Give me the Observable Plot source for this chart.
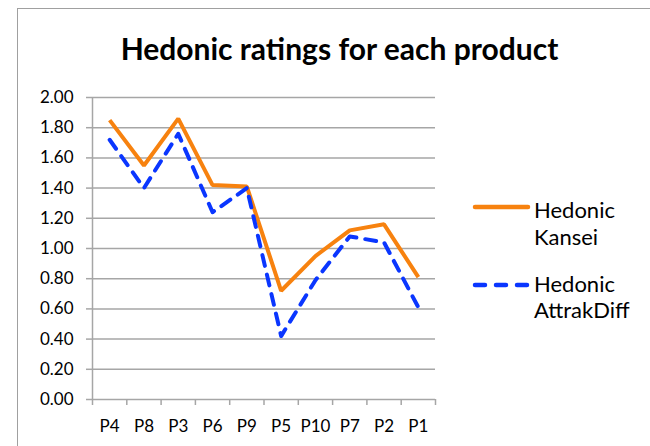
<!DOCTYPE html>
<html>
<head>
<meta charset="utf-8">
<script src="https://cdn.jsdelivr.net/npm/d3@7"></script>
<script src="https://cdn.jsdelivr.net/npm/@observablehq/plot@0.6"></script>
<style>
  html, body { margin: 0; padding: 0; background: #fff; }
  #wrap { position: relative; width: 650px; height: 446px; overflow: hidden; font-family: Lato, "Open Sans", sans-serif; }
  #frame { position: absolute; left: 17px; top: 8px; width: 700px; height: 500px; border-left: 1.5px solid #a0a0a0; border-top: 1.5px solid #a0a0a0; box-sizing: border-box; }
  #title { position: absolute; left: 0; top: 33px; width: 679px; text-align: center; font-weight: bold; font-size: 30px; line-height: 30px; color: #000; white-space: nowrap; }
  #chart { position: absolute; left: 0; top: 0; }
  #legend { position: absolute; left: 0; top: 0; }
</style>
</head>
<body>
<div id="wrap">
  <div id="frame"></div>
  <div id="chart"></div>
  <div id="title"></div>
  <svg id="legend" width="650" height="446"></svg>
</div>
<script>
const products = ["P4","P8","P3","P6","P9","P5","P10","P7","P2","P1"];
const kansei   = [1.85,1.55,1.86,1.42,1.41,0.72,0.95,1.12,1.16,0.81];
const attrak   = [1.72,1.40,1.76,1.24,1.40,0.42,0.79,1.08,1.04,0.61];
const yTicks   = [0,0.2,0.4,0.6,0.8,1.0,1.2,1.4,1.6,1.8,2.0];
const seriesNames = ["Hedonic Kansei", "Hedonic AttrakDiff"];
const colors = ["#f7820f", "#0a36ff"];
const titleText = "Hedonic ratings for each product";

const rows = [];
products.forEach((p, i) => {
  rows.push({idx: i + 0.5, product: p, value: kansei[i], series: seriesNames[0]});
  rows.push({idx: i + 0.5, product: p, value: attrak[i], series: seriesNames[1]});
});

const gray = "#a6a6a6";
const plot = Plot.plot({
  width: 650,
  height: 446,
  marginLeft: 92,
  marginRight: 215,
  marginTop: 97,
  marginBottom: 47,
  style: {fontFamily: "Lato, 'Open Sans', sans-serif", fontSize: "17px", color: "#000", background: "transparent"},
  x: {domain: [0, products.length], axis: null, label: null},
  y: {domain: [0, 2], axis: null, label: null},
  marks: [
    Plot.ruleY(yTicks, {stroke: gray, strokeWidth: 1.5}),
    Plot.axisY(yTicks, {label: null, tickSize: 6, tickPadding: 13, stroke: gray, strokeWidth: 1.5, fill: "#000", tickFormat: d => d.toFixed(2), fontSize: 17}),
    Plot.ruleX([0], {stroke: gray, strokeWidth: 1.5}),
    Plot.axisX(d3.range(products.length + 1), {label: null, tickSize: 6, stroke: gray, strokeWidth: 1.5, tickFormat: () => ""}),
    Plot.axisX(products.map((p, i) => i + 0.5), {label: null, tickSize: 0, tickPadding: 20, fill: "#000", tickFormat: d => products[Math.floor(d)], fontSize: 17}),
    Plot.line(rows.filter(d => d.series === seriesNames[0]), {x: "idx", y: "value", stroke: colors[0], strokeWidth: 4, strokeLinejoin: "miter", strokeLinecap: "butt"}),
    Plot.line(rows.filter(d => d.series === seriesNames[1]), {x: "idx", y: "value", stroke: colors[1], strokeWidth: 4, strokeDasharray: "11,9", strokeLinecap: "round", strokeLinejoin: "round"})
  ]
});
document.getElementById("chart").appendChild(plot);
document.getElementById("title").textContent = titleText;

// legend
const svg = d3.select("#legend");
const legLineY = [207, 285];
const legTextY = [[218, 245], [292, 318]];
seriesNames.forEach((name, i) => {
  const line = svg.append("line")
    .attr("x1", 475).attr("x2", 528)
    .attr("y1", legLineY[i]).attr("y2", legLineY[i])
    .attr("stroke", colors[i]).attr("stroke-width", 4.5)
    .attr("stroke-linecap", "round");
  if (i === 1) line.attr("stroke-dasharray", "10,11");
  const parts = name.split(" ");
  const lines = [parts[0], parts.slice(1).join(" ")];
  lines.forEach((t, j) => {
    svg.append("text")
      .attr("x", 534).attr("y", legTextY[i][j])
      .attr("font-family", "Lato, 'Open Sans', sans-serif")
      .attr("font-size", 22)
      .attr("fill", "#000")
      .text(t);
  });
});
</script>
</body>
</html>
